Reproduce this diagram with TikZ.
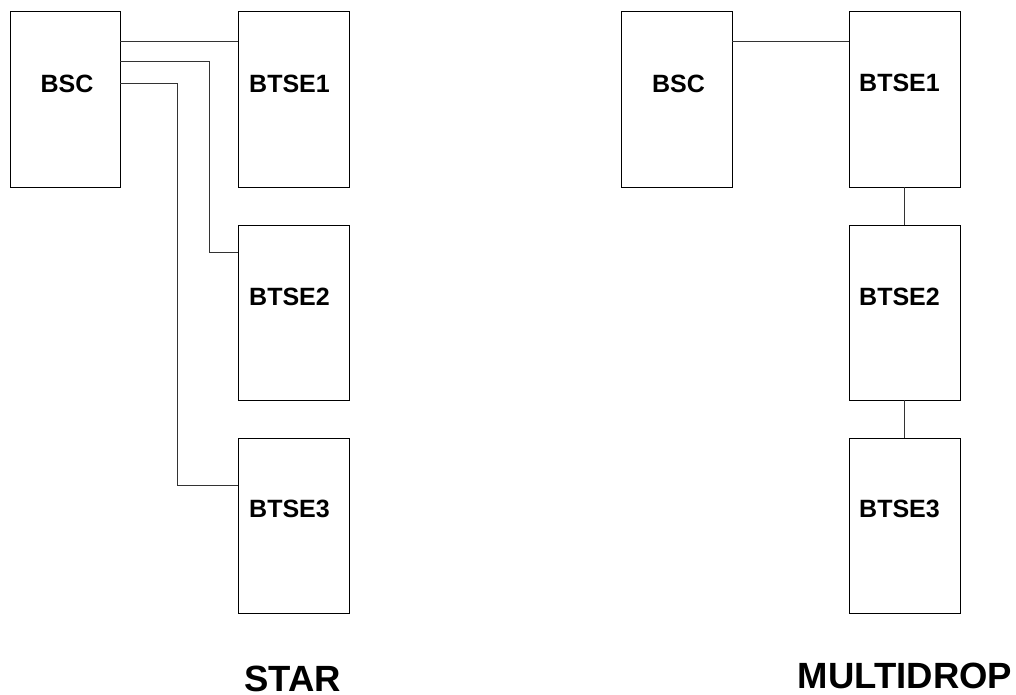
\documentclass[tikz,border=0pt]{standalone}
\usepackage{fontspec}
\setmainfont{Liberation Sans}
\begin{document}
\begin{tikzpicture}[x=1pt,y=-1pt,
  unit/.style={draw=black,line width=1pt,fill=white,minimum width=111pt,minimum height=175pt,inner sep=0pt,outer sep=0pt},
  lbl/.style={font=\fontsize{25}{30}\selectfont\bfseries,inner sep=0pt},
  title/.style={font=\fontsize{36.5}{42}\selectfont\bfseries,inner sep=0pt},
  wire/.style={line width=1pt,draw=black!80}]
\useasboundingbox (0,0) rectangle (1016,695);
% STAR
\node[unit,minimum width=110pt] (sbsc) at (65,99.5) {};
\node[unit] (sb1) at (293.5,99.5) {};
\node[unit] (sb2) at (293.5,312.5) {};
\node[unit] (sb3) at (293.5,525.5) {};
\node[lbl] (tsbsc) at ([xshift=2pt,yshift=16pt]sbsc.center) {BSC};
\node[lbl] (tsb1) at ([xshift=-4pt,yshift=16pt]sb1.center) {BTSE1};
\node[lbl] (tsb2) at ([xshift=-4pt,yshift=16pt]sb2.center) {BTSE2};
\node[lbl] (tsb3) at ([xshift=-4pt,yshift=17pt]sb3.center) {BTSE3};
\draw[wire] ([yshift=-30pt]sbsc.north east) -- ([yshift=-30pt]sb1.north west);
\draw[wire] ([yshift=-50pt]sbsc.north east) -| ([xshift=-29pt,yshift=-27pt]sb2.north west) -- ([yshift=-27pt]sb2.north west);
\draw[wire] ([yshift=-72pt]sbsc.north east) -| ([xshift=-61pt,yshift=-47pt]sb3.north west) -- ([yshift=-47pt]sb3.north west);
\node[title] (tstar) at (292.5,678.5) {STAR};
% MULTIDROP
\node[unit] (mbsc) at (676.5,99.5) {};
\node[unit] (mb1) at (904.5,99.5) {};
\node[unit] (mb2) at (904.5,312.5) {};
\node[unit] (mb3) at (904.5,525.5) {};
\node[lbl] (tmbsc) at ([xshift=2pt,yshift=16pt]mbsc.center) {BSC};
\node[lbl] (tmb1) at ([xshift=-5pt,yshift=17pt]mb1.center) {BTSE1};
\node[lbl] (tmb2) at ([xshift=-5pt,yshift=16pt]mb2.center) {BTSE2};
\node[lbl] (tmb3) at ([xshift=-5pt,yshift=17pt]mb3.center) {BTSE3};
\draw[wire] ([yshift=-30pt]mbsc.north east) -- ([yshift=-30pt]mb1.north west);
\draw[wire] (mb1.south) -- (mb2.north);
\draw[wire] (mb2.south) -- (mb3.north);
\node[title] (tmulti) at (905,675.5) {MULTIDROP};
\end{tikzpicture}
\end{document}
